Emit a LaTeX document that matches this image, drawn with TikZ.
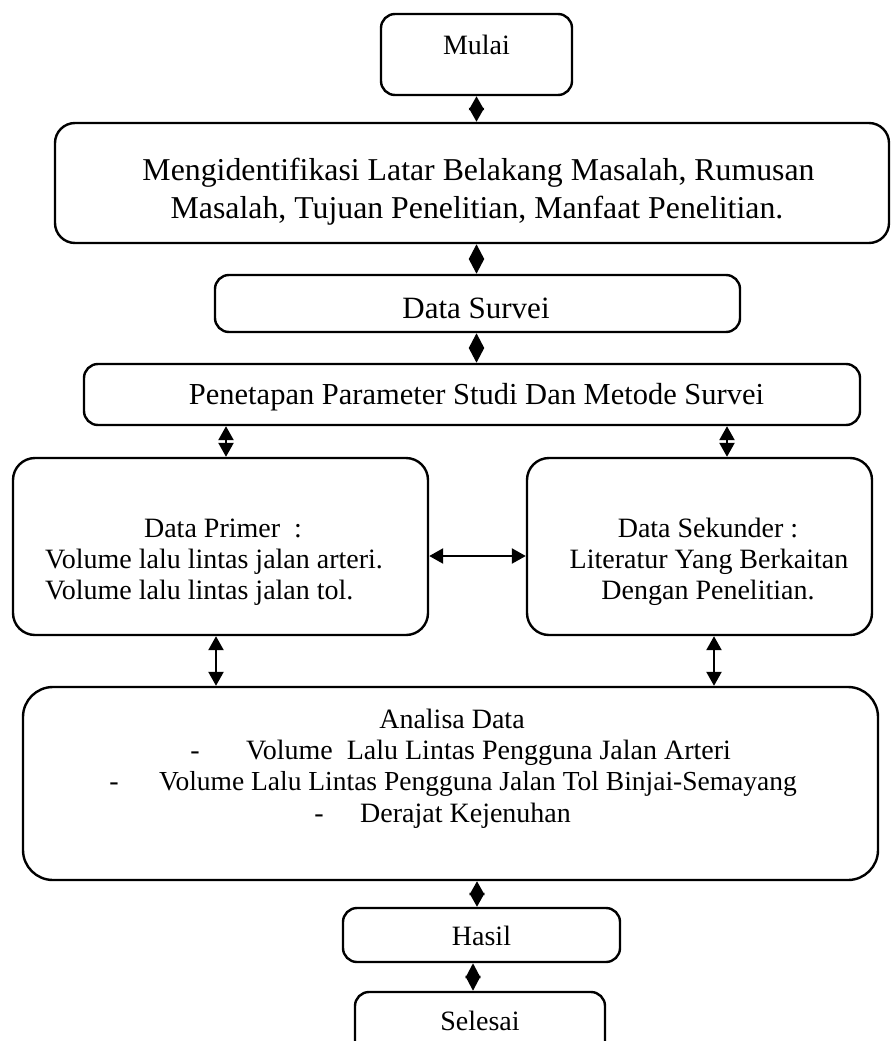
\documentclass[tikz,border=0pt]{standalone}
\usepackage{fontspec}
\setmainfont{Liberation Serif}
\usetikzlibrary{arrows.meta}
\tikzset{
  boxshape/.style={draw=black, line width=2.4pt, rounded corners=#1, inner sep=0pt},
  boxshape/.default=14pt,
  txt/.style={inner sep=0pt, anchor=base, font=\fontsize{28}{34}\selectfont},
  txtw/.style={inner sep=0pt, anchor=base west, font=\fontsize{28}{34}\selectfont},
  conn/.style={line width=2.4pt, {Triangle[length=14pt,width=15pt]}-{Triangle[length=14pt,width=15pt]}},
  dconn/.style={line width=2.4pt, {Triangle[length=#1,width=15pt]}-{Triangle[length=#1,width=15pt]}},
}
\begin{document}
\begin{tikzpicture}[x=1pt,y=-1pt]
\useasboundingbox (0,0) rectangle (891,1041);
\clip (0,0) rectangle (891,1041);
% boxes
\node[boxshape, minimum width=191pt, minimum height=81pt] (mulai) at (476.5,54.5) {};
\node[boxshape=20pt, minimum width=834pt, minimum height=120pt] (ident) at (472,183) {};
\node[boxshape, minimum width=525pt, minimum height=57pt] (survei) at (477.5,303.5) {};
\node[boxshape, minimum width=776pt, minimum height=61pt] (penetapan) at (472,394.5) {};
\node[boxshape=22pt, minimum width=415pt, minimum height=177pt] (primer) at (220.5,546.5) {};
\node[boxshape=22pt, minimum width=345pt, minimum height=177pt] (sekunder) at (699.5,546.5) {};
\node[boxshape=30pt, minimum width=855pt, minimum height=193pt] (analisa) at (450.5,783.5) {};
\node[boxshape, minimum width=277pt, minimum height=54pt] (hasil) at (481.5,935) {};
\node[boxshape, minimum width=250pt, minimum height=70pt] (selesai) at (480,1027) {};
% texts
\node[txt] (tmulai) at (476.5,55) {Mulai};
\node[txt, font=\fontsize{31.8}{38}\selectfont] (tident1) at (478.5,180) {Mengidentifikasi Latar Belakang Masalah, Rumusan};
\node[txt, font=\fontsize{31.8}{38}\selectfont] (tident2) at (477,218) {Masalah, Tujuan Penelitian, Manfaat Penelitian.};
\node[txt, font=\fontsize{31}{37}\selectfont] (tsurvei) at (476,318) {Data Survei};
\node[txt, font=\fontsize{30.5}{37}\selectfont] (tpenetapan) at (476.5,404) {Penetapan Parameter Studi Dan Metode Survei};
\node[txt] (tprimer1) at (223,537) {Data Primer\ \ :};
\node[txtw] (tprimer2) at (45,568) {Volume lalu lintas jalan arteri.};
\node[txtw] (tprimer3) at (45,599) {Volume lalu lintas jalan tol.};
\node[txt] (tsek1) at (708,537) {Data Sekunder :};
\node[txt] (tsek2) at (709,568) {Literatur Yang Berkaitan};
\node[txt] (tsek3) at (708,599) {Dengan Penelitian.};
\node[txt] (tan1) at (452,728) {Analisa Data};
\node[txt] (tand2) at (195,759) {-};
\node[txtw] (tan2) at (246,759) {Volume\ \ Lalu Lintas Pengguna Jalan Arteri};
\node[txt] (tand3) at (114,790) {-};
\node[txtw, font=\fontsize{27.5}{34}\selectfont] (tan3) at (159,790) {Volume Lalu Lintas Pengguna Jalan Tol Binjai-Semayang};
\node[txt] (tand4) at (319,822) {-};
\node[txtw] (tan4) at (360,822) {Derajat Kejenuhan};
\node[txt] (thasil) at (481.5,945) {Hasil};
\node[txt] (tselesai) at (480,1030) {Selesai};
% connectors
\draw[dconn=14pt] (mulai.south) -- (ident.north -| mulai.south);
\draw[dconn=15pt] (ident.south -| mulai.south) -- (survei.north -| mulai.south);
\draw[dconn=15pt] (survei.south -| mulai.south) -- (penetapan.north -| mulai.south);
\coordinate (pl) at (226,0);
\coordinate (pr) at (727,0);
\draw[conn] (penetapan.south -| pl) -- (primer.north -| pl);
\draw[conn] (penetapan.south -| pr) -- (sekunder.north -| pr);
\coordinate (hy) at (0,556);
\draw[conn] (primer.east |- hy) -- (sekunder.west |- hy);
\coordinate (al) at (216,0);
\coordinate (ar) at (714,0);
\draw[conn] (primer.south -| al) -- (analisa.north -| al);
\draw[conn] (sekunder.south -| ar) -- (analisa.north -| ar);
\coordinate (hx) at (477,0);
\draw[dconn=14pt] (analisa.south -| hx) -- (hasil.north -| hx);
\coordinate (sx) at (473,0);
\draw[dconn=15pt] (hasil.south -| sx) -- (selesai.north -| sx);
\end{tikzpicture}
\end{document}
